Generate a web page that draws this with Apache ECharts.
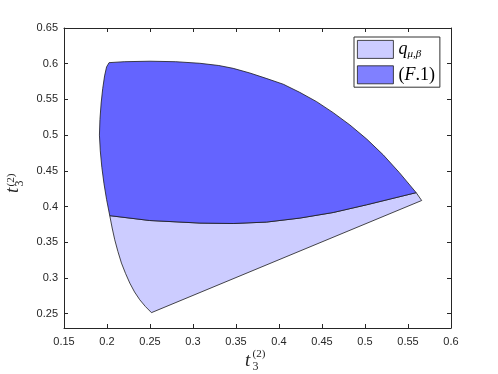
<!DOCTYPE html>
<html>
<head>
<meta charset="utf-8">
<script src="https://cdn.jsdelivr.net/npm/echarts@6/dist/echarts.min.js"></script>
<style>
  html, body { margin: 0; padding: 0; background: #fff; }
  #chart { width: 498px; height: 374px; }
</style>
</head>
<body>
<div id="chart"></div>
<script>
// axis ticks
const xTicks = [0.15, 0.2, 0.25, 0.3, 0.35, 0.4, 0.45, 0.5, 0.55, 0.6]
const yTicks = [0.25, 0.3, 0.35, 0.4, 0.45, 0.5, 0.55, 0.6, 0.65]

// lower (light) region, q_{mu,beta}
const qRegion = [
  [0.2517, 0.2515], [0.5659, 0.4085], [0.5595, 0.4195],
  [0.5019, 0.4025], [0.4630, 0.3917], [0.4243, 0.3839], [0.3855, 0.3783],
  [0.3467, 0.3763], [0.3081, 0.3769], [0.2497, 0.3805], [0.2032, 0.3873],
  [0.2060, 0.3700], [0.2090, 0.3535], [0.2127, 0.3370], [0.2168, 0.3209],
  [0.2215, 0.3065], [0.2265, 0.2929], [0.2320, 0.2805], [0.2381, 0.2695],
  [0.2447, 0.2600]
]

// upper (dark) region, (F.1)
const f1Region = [
  [0.2032, 0.3873], [0.1995, 0.4100], [0.1965, 0.4320], [0.1940, 0.4550],
  [0.1922, 0.4780], [0.1912, 0.5000], [0.1918, 0.5220], [0.1932, 0.5450],
  [0.1950, 0.5650], [0.1972, 0.5830], [0.1995, 0.5955], [0.2024, 0.6015],
  [0.2200, 0.6028], [0.2500, 0.6035], [0.2800, 0.6028], [0.3080, 0.6006],
  [0.3300, 0.5975], [0.3467, 0.5935], [0.3661, 0.5870], [0.3850, 0.5795],
  [0.4049, 0.5713], [0.4240, 0.5600], [0.4437, 0.5469], [0.4630, 0.5315],
  [0.4824, 0.5143], [0.5020, 0.4945], [0.5212, 0.4724], [0.5400, 0.4475],
  [0.5595, 0.4195],
  [0.5019, 0.4025], [0.4630, 0.3917], [0.4243, 0.3839], [0.3855, 0.3783],
  [0.3467, 0.3763], [0.3081, 0.3769], [0.2497, 0.3805]
]

const axisColor = '#262626'
const tickFont = { color: axisColor, fontFamily: 'Liberation Sans', fontSize: 11 }
const serif = 'Liberation Serif'

function polygonItem(points, fill) {
  return function (params, api) {
    if (params.dataIndex !== 0) return
    return {
      type: 'polygon',
      shape: { points: points.map(p => api.coord(p)) },
      style: { fill: fill, stroke: '#1a1a1a', lineWidth: 0.8 }
    }
  }
}

// horizontal t_3^{(2)} built from three pieces, origin = left end of the baseline of "t"
function xTitle(x, y) {
  const parts = [
    { text: 't', font: 'italic 19px "Liberation Serif"', lx: 0, ly: -6.5 },
    { text: '(2)', font: '11px "Liberation Serif"', lx: 7.5, ly: -12.5 },
    { text: '3', font: '12px "Liberation Serif"', lx: 7.5, ly: 0 }
  ]
  return parts.map(p => ({
    type: 'text',
    x: x + p.lx,
    y: y + p.ly,
    style: { text: p.text, font: p.font, fill: axisColor, verticalAlign: 'middle' }
  }))
}

const chart = echarts.init(document.getElementById('chart'))

chart.setOption({
  animation: false,
  grid: { left: 64, right: 47, top: 28, bottom: 46, containLabel: false, outerBoundsMode: 'none' },
  legend: {
    left: 354,
    top: 37,
    orient: 'vertical',
    icon: 'rect',
    itemWidth: 36,
    itemHeight: 18,
    itemGap: 6,
    padding: [3, 5, 3, 3],
    borderColor: '#333',
    borderWidth: 1,
    backgroundColor: '#fff',
    data: [
      { name: 'q', itemStyle: { color: '#ccccff', borderColor: '#1a1a1a', borderWidth: 0.8 } },
      { name: 'F1', itemStyle: { color: '#8080ff', borderColor: '#1a1a1a', borderWidth: 0.8 } }
    ],
    formatter: function (name) {
      if (name === 'q') return '{i|q}{s|μ,β}'
      return '{n|(}{i|F}{n|.1)}'
    },
    textStyle: {
      color: '#000',
      rich: {
        i: { fontFamily: serif, fontStyle: 'italic', fontSize: 18, lineHeight: 18 },
        n: { fontFamily: serif, fontSize: 18, lineHeight: 18 },
        s: { fontFamily: serif, fontStyle: 'italic', fontSize: 11, padding: [9, 0, 0, 0] }
      }
    }
  },
  xAxis: [
    {
      type: 'value', min: 0.15, max: 0.6, interval: 0.05,
      axisLine: { lineStyle: { color: axisColor, width: 1 } },
      axisTick: { inside: true, length: 4, lineStyle: { color: axisColor } },
      axisLabel: Object.assign({ margin: 8, customValues: xTicks }, tickFont),
      splitLine: { show: false }
    },
    {
      type: 'value', position: 'top', min: 0.15, max: 0.6, interval: 0.05,
      axisLine: { lineStyle: { color: axisColor, width: 1 } },
      axisTick: { inside: true, length: 4, lineStyle: { color: axisColor } },
      axisLabel: { show: false },
      splitLine: { show: false }
    }
  ],
  yAxis: [
    {
      type: 'value', min: 0.23, max: 0.65,
      // "t" with subscript 3
      name: '{t|t}{b|3}',
      nameLocation: 'middle',
      nameRotate: 90,
      nameGap: 33,
      nameTextStyle: {
        color: axisColor,
        rich: {
          t: { fontFamily: serif, fontStyle: 'italic', fontSize: 19, lineHeight: 20, width: 7.5 },
          b: { fontFamily: serif, fontSize: 12, lineHeight: 20, width: 6, padding: [13, 18.5, 0, 0] }
        }
      },
      axisLine: { show: true, lineStyle: { color: axisColor, width: 1 } },
      axisTick: { show: true, inside: true, length: 4, customValues: yTicks, lineStyle: { color: axisColor } },
      axisLabel: Object.assign({ margin: 6, customValues: yTicks, formatter: v => String(+v.toFixed(2)) }, tickFont),
      splitLine: { show: false }
    },
    {
      type: 'value', position: 'right', min: 0.23, max: 0.65,
      // superscript (2) of the vertical title, pulled across to the left side
      name: '{p|(2)}',
      nameLocation: 'middle',
      nameRotate: 90,
      nameGap: -446,
      nameTextStyle: {
        color: axisColor,
        rich: {
          p: { fontFamily: serif, fontSize: 11, lineHeight: 12, padding: [0, 4, 0, 0] }
        }
      },
      axisLine: { show: true, lineStyle: { color: axisColor, width: 1 } },
      axisTick: { show: true, inside: true, length: 4, customValues: yTicks, lineStyle: { color: axisColor } },
      axisLabel: { show: false },
      splitLine: { show: false }
    }
  ],
  series: [
    {
      name: 'q',
      type: 'custom',
      xAxisIndex: 0,
      yAxisIndex: 0,
      clip: true,
      data: qRegion,
      itemStyle: { color: '#ccccff' },
      renderItem: polygonItem(qRegion, '#ccccff')
    },
    {
      name: 'F1',
      type: 'custom',
      xAxisIndex: 0,
      yAxisIndex: 0,
      clip: true,
      data: f1Region,
      itemStyle: { color: '#8080ff' },
      renderItem: polygonItem(f1Region, '#6464ff')
    }
  ],
  graphic: xTitle(245, 367)
})
</script>
</body>
</html>
